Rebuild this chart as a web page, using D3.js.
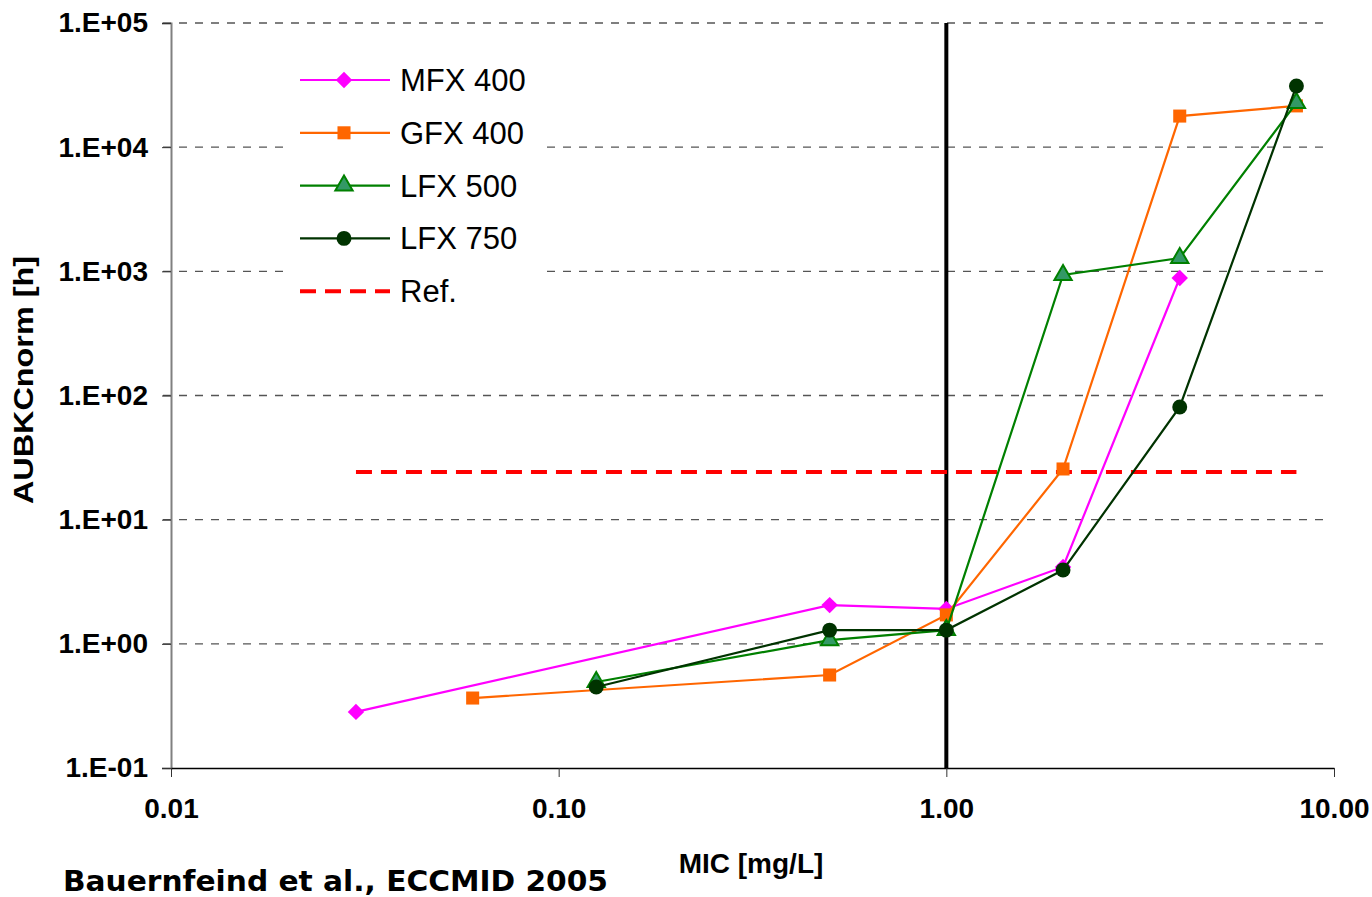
<!DOCTYPE html>
<html>
<head>
<meta charset="utf-8">
<script src="https://cdnjs.cloudflare.com/ajax/libs/d3/7.8.5/d3.min.js"></script>
<style>
  body { margin: 0; background: #fff; }
  svg text { font-family: "Liberation Sans", Arial, sans-serif; }
</style>
</head>
<body>
<div id="chart"></div>
<script>
// MIC values (mg/L) and AUBKCnorm (h) per regimen
var micMFX = [0.03, 0.5, 1, 2, 4];
var mfx400 = [0.283, 2.05, 1.91, 4.16, 884];

var micGFX = [0.06, 0.5, 1, 2, 4, 8];
var gfx400 = [0.366, 0.561, 1.71, 25.6, 17800, 21500];

var micLFX = [0.125, 0.5, 1, 2, 4, 8];
var lfx500 = [0.493, 1.07, 1.29, 935, 1280, 22700];
var lfx750 = [0.449, 1.29, 1.29, 3.93, 80.8, 31100];

var refValue = 24.2;
var refRange = [0.03, 8];
var breakpoint = 1;

var xTicks = [0.01, 0.1, 1, 10];
var xTickLabels = ["0.01", "0.10", "1.00", "10.00"];
var yTicks = [0.1, 1, 10, 100, 1000, 10000, 100000];
var yTickLabels = ["1.E-01", "1.E+00", "1.E+01", "1.E+02", "1.E+03", "1.E+04", "1.E+05"];

var width = 1372, height = 897;
var margin = {left: 171, right: 38, top: 23, bottom: 129};

var svg = d3.select('#chart').append('svg')
    .attr('width', width)
    .attr('height', height);

var x = d3.scaleLog().domain([0.01, 10]).range([margin.left, width - margin.right]);
var y = d3.scaleLog().domain([0.1, 100000]).range([height - margin.bottom, margin.top]);

// gridlines
svg.append('g').selectAll('line')
    .data(yTicks.slice(1))
    .enter().append('line')
    .attr('x1', margin.left - 8)
    .attr('x2', width - margin.right - 3)
    .attr('y1', function(d){ return y(d); })
    .attr('y2', function(d){ return y(d); })
    .attr('stroke', '#555')
    .attr('stroke-width', 1.3)
    .attr('stroke-dasharray', '8,8');

// y axis
var yAxis = d3.axisLeft(y).tickValues(yTicks)
    .tickFormat(function(d, i){ return yTickLabels[i]; })
    .tickSize(9).tickPadding(14);
var gy = svg.append('g').attr('transform', 'translate(' + margin.left + ',0)').call(yAxis);
gy.select('.domain').attr('stroke', '#808080').attr('stroke-width', 2);
gy.selectAll('.tick line').attr('stroke', '#333');
gy.selectAll('text').attr('font-size', 28).attr('font-weight', 'bold')
    .attr('fill', '#000').style('font-family', '"Liberation Sans", Arial, sans-serif');

// x axis
var xAxis = d3.axisBottom(x).tickValues(xTicks)
    .tickFormat(function(d, i){ return xTickLabels[i]; })
    .tickSize(9).tickSizeOuter(0).tickPadding(21);
var gx = svg.append('g').attr('transform', 'translate(0,' + (height - margin.bottom) + ')').call(xAxis);
gx.select('.domain').attr('stroke', '#000').attr('stroke-width', 1.5);
gx.selectAll('.tick line').attr('stroke', '#333');
gx.selectAll('text').attr('font-size', 28).attr('font-weight', 'bold')
    .attr('fill', '#000').style('font-family', '"Liberation Sans", Arial, sans-serif');

// breakpoint line at MIC 1
svg.append('line')
    .attr('x1', x(breakpoint)).attr('x2', x(breakpoint))
    .attr('y1', y(100000)).attr('y2', y(0.1))
    .attr('stroke', '#000').attr('stroke-width', 4);

// reference line
svg.append('line')
    .attr('x1', x(refRange[0])).attr('x2', x(refRange[1]))
    .attr('y1', y(refValue)).attr('y2', y(refValue))
    .attr('stroke', '#ff0000').attr('stroke-width', 4)
    .attr('stroke-dasharray', '16,9');

var series = [
  {name: 'MFX 400', mic: micMFX, vals: mfx400, color: '#ff00ff', sym: d3.symbolSquare, size: 135, rot: 45, fill: '#ff00ff', stroke: 'none'},
  {name: 'GFX 400', mic: micGFX, vals: gfx400, color: '#ff6600', sym: d3.symbolSquare, size: 170, rot: 0, fill: '#ff6600', stroke: 'none'},
  {name: 'LFX 500', mic: micLFX, vals: lfx500, color: '#008000', sym: d3.symbolTriangle, size: 130, rot: 0, fill: '#339966', stroke: '#008000'},
  {name: 'LFX 750', mic: micLFX, vals: lfx750, color: '#003300', sym: d3.symbolCircle, size: 175, rot: 0, fill: '#003300', stroke: 'none'}
];

var line = d3.line()
    .x(function(d){ return x(d[0]); })
    .y(function(d){ return y(d[1]); });

series.forEach(function(s){
  var pts = s.mic.map(function(m, i){ return [m, s.vals[i]]; });
  svg.append('path')
      .attr('d', line(pts))
      .attr('fill', 'none')
      .attr('stroke', s.color)
      .attr('stroke-width', 2.2);
  svg.append('g').selectAll('path')
      .data(pts)
      .enter().append('path')
      .attr('d', d3.symbol().type(s.sym).size(s.size))
      .attr('transform', function(d){ return 'translate(' + x(d[0]) + ',' + y(d[1]) + ') rotate(' + s.rot + ')'; })
      .attr('fill', s.fill)
      .attr('stroke', s.stroke)
      .attr('stroke-width', 2);
});

// legend
var leg = svg.append('g');
leg.append('rect').attr('x', 287).attr('y', 52).attr('width', 252).attr('height', 260).attr('fill', '#fff');
series.forEach(function(s, i){
  var ly = 80 + i * 52.8;
  leg.append('line').attr('x1', 300).attr('x2', 390).attr('y1', ly).attr('y2', ly)
      .attr('stroke', s.color).attr('stroke-width', 2.2);
  leg.append('path')
      .attr('d', d3.symbol().type(s.sym).size(s.size))
      .attr('transform', 'translate(344,' + ly + ') rotate(' + s.rot + ')')
      .attr('fill', s.fill).attr('stroke', s.stroke).attr('stroke-width', 2);
  leg.append('text').attr('x', 400).attr('y', ly + 11).attr('font-size', 31).text(s.name);
});
var refY = 80 + 4 * 52.8;
leg.append('line').attr('x1', 300).attr('x2', 390).attr('y1', refY).attr('y2', refY)
    .attr('stroke', '#ff0000').attr('stroke-width', 4).attr('stroke-dasharray', '16,9');
leg.append('text').attr('x', 400).attr('y', refY + 11).attr('font-size', 31).text('Ref.');

// axis titles
svg.append('text')
    .attr('transform', 'translate(33,380) rotate(-90)')
    .attr('text-anchor', 'middle')
    .attr('font-size', 28).attr('font-weight', 'bold')
    .attr('textLength', 248).attr('lengthAdjust', 'spacingAndGlyphs')
    .text('AUBKCnorm [h]');
svg.append('text')
    .attr('x', 751).attr('y', 873)
    .attr('text-anchor', 'middle')
    .attr('font-size', 28).attr('font-weight', 'bold')
    .text('MIC [mg/L]');

// source note
svg.append('text')
    .attr('x', 63).attr('y', 891)
    .attr('font-size', 28).attr('font-weight', 'bold')
    .attr('textLength', 545).attr('lengthAdjust', 'spacingAndGlyphs')
    .style('font-family', '"Comic Sans MS", "DejaVu Sans", sans-serif')
    .text('Bauernfeind et al.,  ECCMID 2005');
</script>
</body>
</html>
